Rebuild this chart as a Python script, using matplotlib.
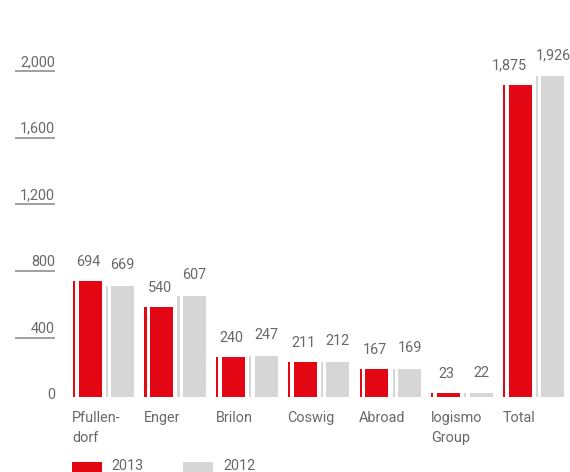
import matplotlib
matplotlib.use("Agg")
import matplotlib.pyplot as plt
from matplotlib.transforms import offset_copy, blended_transform_factory
from matplotlib.patches import Rectangle

plt.rcParams['font.family'] = ['Roboto', 'DejaVu Sans']

categories = ["Pfullen-\ndorf", "Enger", "Brilon", "Coswig", "Abroad", "logismo\nGroup", "Total"]
values_2013 = [694, 540, 240, 211, 167, 23, 1875]
values_2012 = [669, 607, 247, 212, 169, 22, 1926]
series_names = ["2013", "2012"]
yticks = [0, 400, 800, 1200, 1600, 2000]

RED = "#e30613"
GRAY = "#d6d6d6"
TEXT = "#686868"
LINE = "#999999"

W, H = 570, 472
fig = plt.figure(figsize=(W / 100, H / 100), dpi=100)
ax = fig.add_axes([0, 0, 1, 1])
ax.set_xlim(0, W)
ax.set_ylim(-450, 2382)
ax.axis("off")

ov = fig.add_axes([0, 0, 1, 1], zorder=3)
ov.set_xlim(0, W)
ov.set_ylim(H, 0)
ov.axis("off")
ov.patch.set_alpha(0)

start, step = 72.7, 71.7
fs = 10.4

# y ticks with underlines
for v in yticks:
    ax.annotate(f"{v:,}", xy=(55, v), xytext=(0, -1.7), textcoords="offset points",
                ha="right", va="baseline", fontsize=fs, color=TEXT)
    if v > 0:
        tr = offset_copy(ax.transData, fig=fig, y=-7.3, units="dots")
        ax.plot([15, 55], [v, v], color=LINE, lw=1.3, transform=tr, solid_capstyle="butt")

blend = blended_transform_factory(ax.transData, ov.transData)

for i, (cat, a, b) in enumerate(zip(categories, values_2013, values_2012)):
    x0 = start + step * i
    # 2013: thin strip + main bar
    ax.bar(x0, a, width=2.2, align="edge", color=RED, linewidth=0)
    ax.bar(x0 + 5.8, a, width=23, align="edge", color=RED, linewidth=0)
    # 2012: thin strip + main bar
    ax.bar(x0 + 33, b, width=2.2, align="edge", color=GRAY, linewidth=0)
    ax.bar(x0 + 38.5, b, width=23, align="edge", color=GRAY, linewidth=0)
    shift = -9 if i == len(categories) - 1 else 0
    ax.annotate(f"{a:,}", xy=(x0 + 15.5 + shift, a), xytext=(0, 11.0), textcoords="offset points",
                ha="center", va="baseline", fontsize=fs, color=TEXT)
    ax.annotate(f"{b:,}", xy=(x0 + 50, b), xytext=(0, 11.8), textcoords="offset points",
                ha="center", va="baseline", fontsize=fs, color=TEXT)
    for k, line in enumerate(cat.split("\n")):
        ov.text(x0 - 0.5, 421.7 + 20 * k, line, transform=blend, ha="left", va="baseline",
                fontsize=fs, color=TEXT)

# legend
for j, (name, col) in enumerate(zip(series_names, [RED, GRAY])):
    lx = 71.7 + 111.3 * j
    ov.add_patch(Rectangle((lx, 462), 30, 12, color=col, linewidth=0))
    ov.text(lx + 40, 470, name, ha="left", va="baseline", fontsize=fs, color=TEXT)

fig.savefig("out.png", dpi=100)
